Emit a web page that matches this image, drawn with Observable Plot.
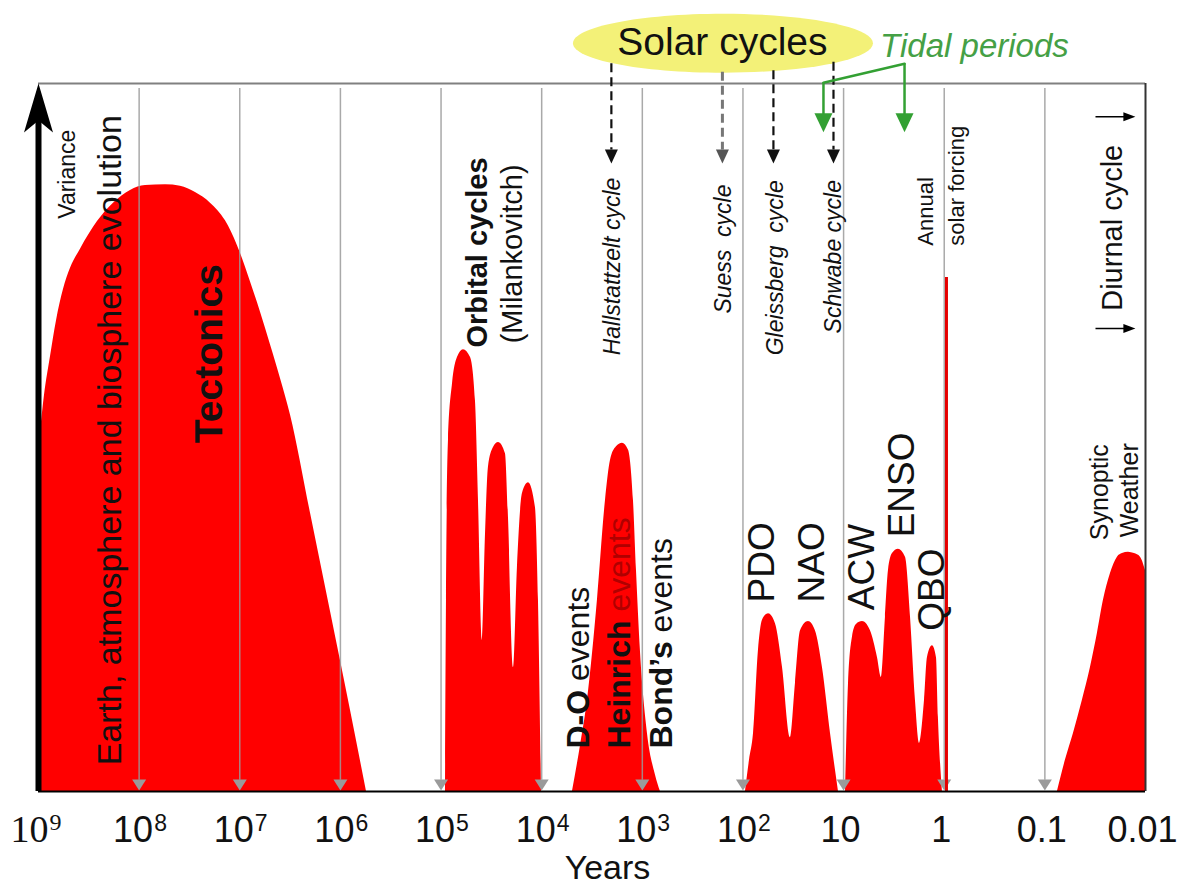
<!DOCTYPE html>
<html><head><meta charset="utf-8">
<script src="https://cdn.jsdelivr.net/npm/d3@7"></script>
<script src="https://cdn.jsdelivr.net/npm/@observablehq/plot@0.6"></script>
<style>body{margin:0;background:#fff} svg{display:block}</style>
</head><body><div id="chart"></div>
<script>
// ---------- DATA ----------
// Spectral humps: log10(period in years) and relative variance (0 = baseline, 100 = top of frame)
const tectonicsLogP = [9.000, 8.980, 8.940, 8.881, 8.821, 8.752, 8.682, 8.583, 8.414, 8.255, 8.086, 7.937, 7.738, 7.589, 7.440, 7.291, 7.142, 7.023, 6.894, 6.794, 6.695, 6.595, 6.495, 6.297, 6.098, 5.899, 5.741];
const tectonicsVar  = [49.2, 51.0, 56.0, 61.4, 66.5, 70.9, 73.9, 76.6, 80.5, 83.1, 84.9, 85.6, 85.7, 85.5, 84.6, 83.1, 80.6, 77.1, 72.0, 67.7, 63.1, 58.3, 53.1, 39.3, 25.4, 11.4, 0];
const orbitalLogP = [4.956, 4.946, 4.926, 4.886, 4.837, 4.777, 4.707, 4.658, 4.628, 4.588, 4.558, 4.529, 4.479, 4.429, 4.360, 4.330, 4.280, 4.241, 4.191, 4.131, 4.062, 4.032, 4.002];
const orbitalVar  = [0, 27.0, 49.6, 57.6, 61.3, 62.4, 61.3, 55.2, 41.1, 21.3, 36.4, 45.8, 48.6, 49.3, 47.7, 38.7, 17.5, 31.6, 42.1, 43.6, 40.1, 27.0, 0];
const millennialLogP = [3.694, 3.614, 3.545, 3.446, 3.366, 3.316, 3.257, 3.197, 3.137, 3.088, 3.058, 3.019, 2.949, 2.869, 2.820];
const millennialVar  = [0, 6.5, 12.9, 27.0, 41.1, 46.8, 48.7, 49.2, 48.2, 41.1, 31.2, 19.9, 8.2, 2.3, 0];
const decadalLogP = [1.975, 1.935, 1.895, 1.846, 1.806, 1.746, 1.677, 1.607, 1.528, 1.478, 1.428, 1.349, 1.280, 1.210, 1.130, 1.051];
const decadalVar  = [0, 4.4, 8.2, 19.9, 24.2, 25.1, 23.7, 17.5, 7.6, 15.3, 22.7, 24.0, 22.7, 17.5, 8.2, 0];
const interannualLogP = [0.981, 0.951, 0.912, 0.872, 0.812, 0.733, 0.663, 0.624, 0.584, 0.554, 0.514, 0.455, 0.385, 0.335, 0.286, 0.246, 0.196, 0.167, 0.117, 0.077, 0.058, 0.018];
const interannualVar  = [0, 15.3, 21.8, 23.6, 24.0, 22.7, 18.9, 16.1, 24.6, 31.2, 33.6, 34.2, 33.1, 24.6, 12.9, 6.8, 12.9, 18.9, 20.6, 18.9, 10.5, 0];
const synopticLogP = [-1.125, -1.204, -1.284, -1.373, -1.453, -1.522, -1.582, -1.652, -1.721, -1.771, -1.831, -1.890, -1.950, -2.000];
const synopticVar  = [0, 4.4, 8.2, 12.9, 17.5, 22.3, 27.0, 30.8, 33.1, 33.6, 33.8, 33.6, 33.1, 31.2];

// Annual solar forcing spike
const annualPeriod = 0.95;
const annualVar = 72.6;

// Decade grid lines and axis ticks
const gridPeriods = [1e8, 1e7, 1e6, 1e5, 1e4, 1e3, 1e2, 10, 1, 0.1];
const tickPeriods = [1e9, 1e8, 1e7, 1e6, 1e5, 1e4, 1e3, 1e2, 10, 1, 0.1, 0.01];
const tickBase = ["10", "10", "10", "10", "10", "10", "10", "10", "10", "1", "0.1", "0.01"];
const tickExp  = ["9", "8", "7", "6", "5", "4", "3", "2", "", "", "", ""];

// Solar cycles (dashed arrows from the ellipse)
const solarNames   = ["Hallstattzelt cycle", "Suess\u00a0 cycle", "Gleissberg\u00a0 cycle", "Schwabe cycle"];
const solarPeriods = [2030, 160, 49.8, 12.6];
const solarArrowTop = [102.8, 101.6, 101.8, 103.0];
const solarLabelPeriods = [1982, 156, 47.5, 12.6];
const solarLabelLevels  = [61.6, 67.5, 61.6, 64.7];

// Tidal periods (green arrows)
const tidalPeriods = [15.85, 2.48];
const tidalTop = [100.1, 102.8];

// Diurnal cycle arrows (levels)
const diurnalLevels = [95.3, 65.4];

// Phenomenon labels
const modeNames   = ["PDO", "NAO", "ACW", "ENSO", "QBO"];
const modePeriods = [64.0, 20.4, 6.49, 2.60, 1.31];
const modeLevels  = [26.7, 26.7, 25.6, 35.9, 22.7];
const eventBold    = ["D-O", "Heinrich", "Bond\u2019s"];
const eventPeriods = [4305, 1687, 646];
const eventLevel   = 6.07;
const noteTexts   = ["Variance", "Earth, atmosphere and biosphere evolution", "(Milankovitch)", "Annual", "solar forcing", "Diurnal cycle", "Synoptic", "Weather"];
const notePeriods = [5.15e8, 1.93e8, 19500, 1.53, 0.755, 0.0213, 0.0280, 0.0141];
const noteLevels  = [80.9, 3.7, 63.3, 77.1, 77.1, 67.9, 35.5, 35.9];
const boldTexts   = ["Tectonics", "Orbital cycles"];
const boldPeriods = [2.0e7, 43400];
const boldLevels  = [49.2, 62.7];

// ---------- STYLE ----------
const FONT = '"Liberation Sans", Arial, Helvetica, sans-serif';
const SERIF = '"Liberation Serif", "Times New Roman", serif';
const INK = "#111";
const RED = "#ff0000";
const GREEN = "#33a033";
const GRID = "#9a9a9a";
const noteSizes = [23, 34, 29, 22, 22, 29, 25, 25];
const boldSizes = [39, 29];

const arrowDown = (w, h) => ({draw(c) { c.moveTo(0, 0); c.lineTo(-w / 2, -h); c.lineTo(w / 2, -h); c.closePath(); }});
const arrowRight = (w, h) => ({draw(c) { c.moveTo(0, 0); c.lineTo(-h, -w / 2); c.lineTo(-h, w / 2); c.closePath(); }});
const arrowUpNotched = (w, h, n) => ({draw(c) { c.moveTo(0, 0); c.lineTo(w / 2, h); c.lineTo(0, h - n); c.lineTo(-w / 2, h); c.closePath(); }});
const ellipse = (rx, ry) => ({draw(c) {
  const k = 0.5523;
  c.moveTo(rx, 0);
  c.bezierCurveTo(rx, ry * k, rx * k, ry, 0, ry);
  c.bezierCurveTo(-rx * k, ry, -rx, ry * k, -rx, 0);
  c.bezierCurveTo(-rx, -ry * k, -rx * k, -ry, 0, -ry);
  c.bezierCurveTo(rx * k, -ry, rx, -ry * k, rx, 0);
  c.closePath();
}});

const humps = [
  ["tectonics", tectonicsLogP, tectonicsVar],
  ["orbital", orbitalLogP, orbitalVar],
  ["millennial", millennialLogP, millennialVar],
  ["decadal", decadalLogP, decadalVar],
  ["interannual", interannualLogP, interannualVar],
  ["synoptic", synopticLogP, synopticVar]
];
const humpRows = humps.flatMap(([shape, lp, v]) => lp.map((l, i) => ({shape, period: 10 ** l, variance: v[i]})));
const ticks = tickPeriods.map((p, i) => ({p, base: tickBase[i], exp: tickExp[i], i}));

const ctx = document.createElement("canvas").getContext("2d");
const textWidth = (s, font) => { ctx.font = font; return ctx.measureText(s).width; };

const rows = (texts, periods, levels) => texts.map((t, i) => ({t, p: periods[i], v: Array.isArray(levels) ? levels[i] : levels, i}));
const vtext = (data, opts) => Plot.text(data, {x: "p", y: "v", text: "t", rotate: -90, textAnchor: "start", lineAnchor: "middle", fill: INK, fontFamily: FONT, ...opts});

const eventMarks = eventBold.flatMap((b, i) => {
  const size = 32;
  const w = textWidth(b, `bold ${size}px "Liberation Sans"`);
  const r = [{t: b, p: eventPeriods[i], v: eventLevel}];
  return [
    vtext(r, {fontSize: size, fontWeight: "bold"}),
    vtext(r.map(d => ({...d, t: "\u00a0events"})), {fontSize: size, dy: -w, fill: i === 1 ? "#b00000" : INK})
  ];
});

const chart = Plot.plot({
  width: 1188, height: 888,
  marginLeft: 38, marginRight: 43, marginTop: 83, marginBottom: 97,
  x: {type: "log", domain: [1e9, 0.01], axis: null},
  y: {domain: [0, 100], axis: null},
  style: {fontFamily: FONT, background: "#fff", color: INK, overflow: "visible"},
  marks: [
    // red variance humps
    Plot.areaY(humpRows, {x: "period", y: "variance", z: "shape", fill: RED, curve: "monotone-x"}),
    // decade grid with arrow tips
    Plot.ruleX(gridPeriods, {y1: 1.6, y2: 99.3, stroke: GRID, strokeWidth: 1.5, strokeOpacity: 0.85}),
    Plot.dot(gridPeriods, {x: d => d, y: () => 0.15, symbol: arrowDown(14, 11), fill: GRID, stroke: "none"}),
    // annual spike
    Plot.ruleX([annualPeriod], {y1: 0, y2: annualVar, stroke: "#e60000", strokeWidth: 3}),
    // frame
    Plot.ruleY([100], {stroke: "#808080", strokeWidth: 2}),
    Plot.ruleX([0.01], {y1: 0, y2: 100, stroke: "#333", strokeWidth: 2}),
    Plot.ruleY([0], {stroke: "#000", strokeWidth: 2}),
    // variance arrow
    Plot.ruleX([1e9], {y1: 0, y2: 95, stroke: "#000", strokeWidth: 6}),
    Plot.dot([1e9], {x: d => d, y: () => 100, symbol: arrowUpNotched(29, 49, 12), fill: "#000", stroke: "none"}),
    // solar cycles ellipse and arrows
    Plot.dot([158], {x: d => d, y: () => 105.7, symbol: ellipse(150, 29.5), fill: "#f3f178", stroke: "none"}),
    Plot.text(["Solar cycles"], {x: () => 160, y: () => 104.0, text: d => d, textAnchor: "middle", lineAnchor: "bottom", fontSize: 39, fontFamily: FONT, fill: INK}),
    Plot.ruleX(solarPeriods.map((p, i) => ({p, top: solarArrowTop[i], i})), {x: "p", y1: "top", y2: 90.6, stroke: d => d.i === 1 ? "#777" : "#111", strokeWidth: d => d.i === 1 ? 3 : 2.2, strokeDasharray: "9,5"}),
    Plot.dot(solarPeriods.map((p, i) => ({p, i})), {x: "p", y: () => 88.7, symbol: arrowDown(13, 14), fill: d => d.i === 1 ? "#555" : "#111", stroke: "none"}),
    vtext(rows(solarNames, solarLabelPeriods, solarLabelLevels), {fontSize: 23, fontStyle: "italic"}),
    // tidal periods
    Plot.text(["Tidal periods"], {x: () => 0.501, y: () => 103.7, text: d => d, textAnchor: "middle", lineAnchor: "bottom", fontSize: 33, fontStyle: "italic", fontFamily: FONT, fill: "#45a045"}),
    Plot.line(tidalPeriods.map((p, i) => ({p, v: tidalTop[i]})), {x: "p", y: "v", stroke: GREEN, strokeWidth: 2.5}),
    Plot.ruleX(tidalPeriods.map((p, i) => ({p, v: tidalTop[i]})), {x: "p", y1: "v", y2: 95.4, stroke: GREEN, strokeWidth: 2.5}),
    Plot.dot(tidalPeriods, {x: d => d, y: () => 93.1, symbol: arrowDown(18, 19), fill: GREEN, stroke: "none"}),
    // diurnal arrows
    Plot.link(diurnalLevels, {x1: () => 0.0314, x2: () => 0.0140, y1: d => d, y2: d => d, stroke: "#000", strokeWidth: 1.5}),
    Plot.dot(diurnalLevels, {x: () => 0.0126, y: d => d, symbol: arrowRight(9, 12), fill: "#000", stroke: "none"}),
    // labels
    ...noteTexts.map((t, i) => vtext([{t, p: notePeriods[i], v: noteLevels[i]}], {fontSize: noteSizes[i]})),
    ...boldTexts.map((t, i) => vtext([{t, p: boldPeriods[i], v: boldLevels[i]}], {fontSize: boldSizes[i], fontWeight: "bold"})),
    vtext(rows(modeNames, modePeriods, modeLevels), {fontSize: 37}),
    ...eventMarks,
    // x tick labels
    Plot.text(ticks.filter(d => d.exp && d.i > 0), {x: "p", y: () => -7.2, text: "base", textAnchor: "end", lineAnchor: "bottom", dx: 14, fontSize: 36, fontFamily: FONT, fill: INK}),
    Plot.text(ticks.filter(d => d.exp && d.i > 0), {x: "p", y: () => -7.2, text: "exp", textAnchor: "start", lineAnchor: "bottom", dx: 15, dy: -11, fontSize: 23, fontFamily: FONT, fill: INK}),
    Plot.text(ticks.filter(d => !d.exp), {x: "p", y: () => -7.2, text: "base", textAnchor: "middle", lineAnchor: "bottom", dx: -3, fontSize: 36, fontFamily: FONT, fill: INK}),
    Plot.text(ticks.filter(d => d.i === 0), {x: "p", y: () => -7.2, text: "base", textAnchor: "end", lineAnchor: "bottom", dx: 10, fontSize: 38, fontFamily: SERIF, fill: INK}),
    Plot.text(ticks.filter(d => d.i === 0), {x: "p", y: () => -7.2, text: "exp", textAnchor: "start", lineAnchor: "bottom", dx: 11, dy: -12, fontSize: 24, fontFamily: SERIF, fill: INK}),
    Plot.text(["Years"], {x: () => 2218, y: () => -12.4, text: d => d, textAnchor: "middle", lineAnchor: "bottom", fontSize: 34, fontFamily: FONT, fill: INK})
  ]
});
document.getElementById("chart").append(chart);
</script>
</body></html>
